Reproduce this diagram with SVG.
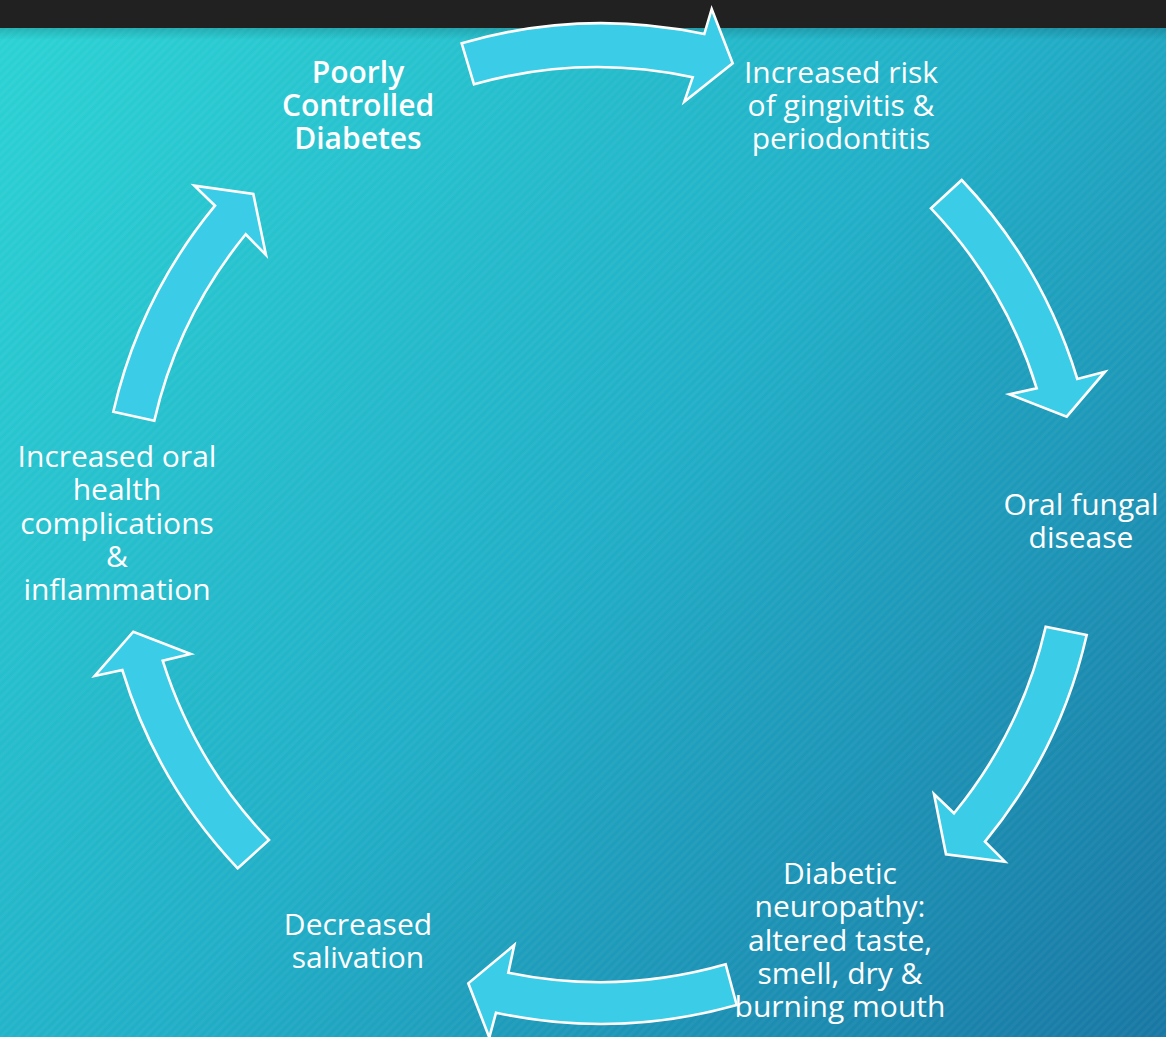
<svg xmlns="http://www.w3.org/2000/svg" width="1166" height="1037" viewBox="0 0 1166 1037">
  <defs>
    <linearGradient id="bg" x1="0" y1="28" x2="1166" y2="1037" gradientUnits="userSpaceOnUse">
      <stop offset="0" stop-color="#2bd2d4"/>
      <stop offset="0.5" stop-color="#21afc7"/>
      <stop offset="1" stop-color="#1877a3"/>
    </linearGradient>
    <linearGradient id="shade" x1="0" y1="28" x2="0" y2="40" gradientUnits="userSpaceOnUse">
      <stop offset="0" stop-color="#000" stop-opacity="0.15"/>
      <stop offset="1" stop-color="#000" stop-opacity="0"/>
    </linearGradient>
    <pattern id="stripes" width="6" height="6" patternUnits="userSpaceOnUse" patternTransform="rotate(45)">
      <rect x="0" y="0" width="3" height="6" fill="#ffffff" fill-opacity="0.035"/>
    </pattern>
    <style>
      .arrow { fill: #3bcde7; stroke: #ffffff; stroke-width: 2.6; stroke-linejoin: miter; }
      .label { font-family: "Open Sans", "DejaVu Sans", sans-serif; font-size: 30px; fill: #ffffff; text-anchor: middle; }
      .title { font-weight: 600; }
    </style>
  </defs>

  <rect x="0" y="0" width="1166" height="1037" fill="url(#bg)"/>
  <rect x="0" y="0" width="1166" height="1037" fill="url(#stripes)"/>
  <rect x="0" y="28" width="1166" height="14" fill="url(#shade)"/>
  <rect x="0" y="0" width="1166" height="28" fill="#212121"/>

  <g id="connectors">
    <path class="arrow" d="M461.7,43.3 L474,84.3 A456,456 0 0 1 692.7,77.3 L684.3,101.7 L732.7,63.3 L711.7,9 L704.3,34 A500,500 0 0 0 461.7,43.3 Z"/>
    <path class="arrow" d="M961.7,180 L931,208.3 A456,456 0 0 1 1036.7,388.3 L1009.3,394.3 L1066.7,416.7 L1105,371.7 L1077.3,379 A500,500 0 0 0 961.7,180 Z"/>
    <path class="arrow" d="M1086.7,635 L1045.7,626.7 A456,456 0 0 1 954,813.3 L934,794 L946,854.3 L1005,861.7 L985,841.7 A500,500 0 0 0 1086.7,635 Z"/>
    <path class="arrow" d="M736.7,1005 L725.7,964.3 A456,456 0 0 1 508.3,972.7 L514.3,945 L468.3,983.3 L489.3,1037.5 L496,1012.7 A500,500 0 0 0 736.7,1005 Z"/>
    <path class="arrow" d="M237.7,868.3 L269,840 A456,456 0 0 1 162.7,660.7 L190.7,654 L133.3,631.7 L94.7,676 L122.3,670 A500,500 0 0 0 237.7,868.3 Z"/>
    <path class="arrow" d="M113.3,411.7 L154.3,420.7 A456,456 0 0 1 245.7,234.3 L266,255 L253.3,194 L194.3,185.7 L215,205.7 A500,500 0 0 0 113.3,411.7 Z"/>
  </g>

  <g id="node-diabetes">
    <text class="label title" x="358" y="83">Poorly</text>
    <text class="label title" x="358" y="116">Controlled</text>
    <text class="label title" x="358" y="149">Diabetes</text>
  </g>
  <g id="node-gingivitis">
    <text class="label" x="841" y="83">Increased risk</text>
    <text class="label" x="841" y="116">of gingivitis &amp;</text>
    <text class="label" x="841" y="149">periodontitis</text>
  </g>
  <g id="node-fungal">
    <text class="label" x="1081" y="515">Oral fungal</text>
    <text class="label" x="1081" y="548">disease</text>
  </g>
  <g id="node-neuropathy">
    <text class="label" x="840" y="884">Diabetic</text>
    <text class="label" x="840" y="917">neuropathy:</text>
    <text class="label" x="840" y="951">altered taste,</text>
    <text class="label" x="840" y="984">smell, dry &amp;</text>
    <text class="label" x="840" y="1017">burning mouth</text>
  </g>
  <g id="node-salivation">
    <text class="label" x="358" y="935">Decreased</text>
    <text class="label" x="358" y="968">salivation</text>
  </g>
  <g id="node-complications">
    <text class="label" x="117" y="467">Increased oral</text>
    <text class="label" x="117" y="500">health</text>
    <text class="label" x="117" y="534">complications</text>
    <text class="label" x="117" y="567">&amp;</text>
    <text class="label" x="117" y="600">inflammation</text>
  </g>
</svg>
